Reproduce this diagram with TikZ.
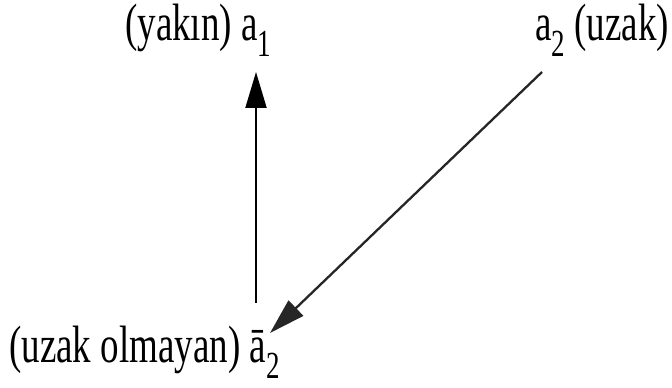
\documentclass[tikz,border=0pt]{standalone}
\usepackage{fontspec}
\setmainfont{Liberation Serif}
\usetikzlibrary{arrows.meta}
\newcommand{\lbl}[1]{\scalebox{1}[1.42]{\fontsize{37}{44}\selectfont #1}}
\newcommand{\subs}[1]{\raisebox{-0.3em}{\fontsize{27}{30}\selectfont #1}}
\tikzset{
  lab/.style={inner sep=0pt, anchor=base west},
  arr/.style={line width=2pt, -{Triangle[length=36pt,width=21pt]}}
}
\begin{document}
\begin{tikzpicture}[x=1pt,y=1pt]
\useasboundingbox (0,0) rectangle (672,388);
\node[lab] (a1) at (125,347) {\lbl{(yakın) a\subs{1}}};
\node[lab] (a2) at (535,347) {\lbl{a\subs{2} (uzak)}};
\node[lab] (b2) at (9,25) {\lbl{(uzak olmayan) ā\subs{2}}};
\coordinate (v0) at (256,85);
\coordinate (v1) at (256,316);
\coordinate (d0) at (542,316);
\coordinate (d1) at (270,55);
\draw[arr] (v0) -- (v1);
\draw[arr, line width=2.3pt, black!85] (d0) -- (d1);
\end{tikzpicture}
\end{document}
